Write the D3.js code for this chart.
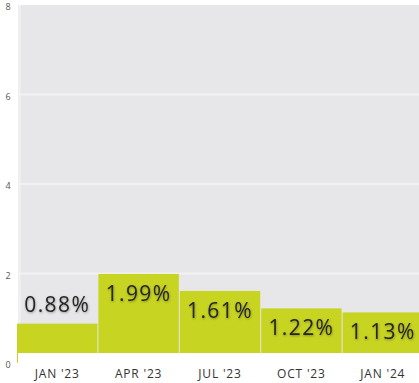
<!DOCTYPE html>
<html>
<head>
<meta charset="utf-8">
<script src="https://cdn.jsdelivr.net/npm/d3@7"></script>
<style>
  html, body { margin: 0; padding: 0; background: #ffffff; }
  svg { display: block; }
</style>
</head>
<body>
<script>
const categories = ["JAN '23", "APR '23", "JUL '23", "OCT '23", "JAN '24"];
const values = [0.88, 1.99, 1.61, 1.22, 1.13];
const valueLabels = ["0.88%", "1.99%", "1.61%", "1.22%", "1.13%"];
const yTicks = [0, 2, 4, 6, 8];

const W = 419, H = 383;
const plotLeft = 18, plotTop = 5, plotBottom = 353;

const svg = d3.select("body").append("svg").attr("width", W).attr("height", H);

const defs = svg.append("defs");
const f = defs.append("filter").attr("id", "shadow").attr("x", "-20%").attr("y", "-30%").attr("width", "140%").attr("height", "160%");
f.append("feDropShadow").attr("dx", 0.5).attr("dy", 1).attr("stdDeviation", 1).attr("flood-color", "#000").attr("flood-opacity", 0.35);

const x = d3.scaleBand().domain(categories).range([17, 423]).paddingInner(0.012).paddingOuter(0);
const y = d3.scaleLinear().domain([0, 8]).range([363, 5]);

// plot background
svg.append("rect").attr("x", plotLeft).attr("y", plotTop).attr("width", W - plotLeft).attr("height", plotBottom - plotTop).attr("fill", "#e7e7e9");

// gridlines
svg.append("g").selectAll("line").data(yTicks.filter(t => t > 0 && t < 8)).join("line")
  .attr("x1", plotLeft).attr("x2", W)
  .attr("y1", d => y(d)).attr("y2", d => y(d))
  .attr("stroke", "#f2f2f4").attr("stroke-width", 2);

// y axis line
svg.append("line").attr("x1", plotLeft + 1.5).attr("x2", plotLeft + 1.5).attr("y1", plotTop).attr("y2", plotBottom)
  .attr("stroke", "#f3f3f5").attr("stroke-width", 2);

// bars
svg.append("g").selectAll("rect").data(values).join("rect")
  .attr("x", (d, i) => x(categories[i]))
  .attr("width", x.bandwidth())
  .attr("y", d => y(d))
  .attr("height", d => y(0) - y(d))
  .attr("fill", "#c8d422");

// bottom white band (x-axis label area)
svg.append("rect").attr("x", plotLeft).attr("y", plotBottom).attr("width", W - plotLeft).attr("height", H - plotBottom).attr("fill", "#ffffff");

// y tick labels
svg.append("g").selectAll("text").data(yTicks).join("text")
  .attr("x", 8).attr("y", d => y(d) + 3)
  .attr("text-anchor", "middle").attr("dominant-baseline", "middle")
  .attr("font-family", "Open Sans, sans-serif").attr("font-size", 9).attr("fill", "#555")
  .text(d => d);

// x labels
svg.append("g").selectAll("text").data(categories).join("text")
  .attr("x", d => x(d) + x.bandwidth() / 2)
  .attr("y", 375).attr("text-anchor", "middle").attr("dominant-baseline", "middle")
  .attr("font-family", "Open Sans, sans-serif").attr("font-size", 12).attr("letter-spacing", 0.8).attr("fill", "#333")
  .text(d => d);

// value labels
svg.append("g").selectAll("text").data(values).join("text")
  .attr("x", (d, i) => x(categories[i]) + x.bandwidth() / 2)
  .attr("y", d => d < 1 ? y(d) - 17 : y(d) + 21)
  .attr("text-anchor", "middle").attr("dominant-baseline", "middle")
  .attr("font-family", "Open Sans, sans-serif").attr("font-size", 21).attr("font-weight", 500)
  .attr("letter-spacing", 1.4).attr("fill", "#252525")
  .attr("filter", "url(#shadow)")
  .text((d, i) => valueLabels[i]);
</script>
</body>
</html>
